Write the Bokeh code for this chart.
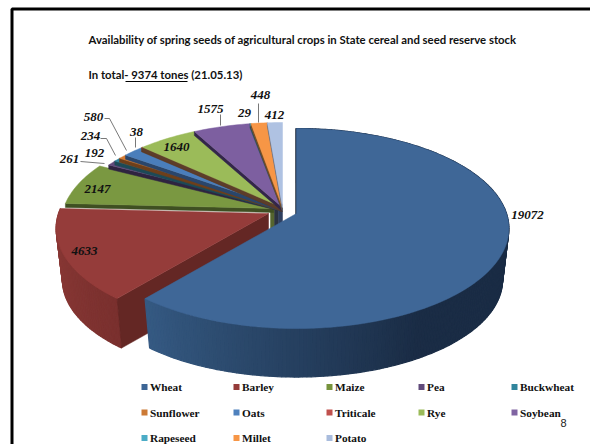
import math
from bokeh.embed import file_html
from bokeh.models import Range1d
from bokeh.plotting import figure
from bokeh.resources import INLINE
from bokeh.core.properties import value

# Stock of spring seeds by crop, tonnes
crops = ["Wheat", "Barley", "Maize", "Pea", "Buckwheat", "Sunflower", "Oats",
         "Triticale", "Rye", "Soybean", "Rapeseed", "Millet", "Potato"]
stock = [19072, 4633, 2147, 261, 192, 234, 580, 38, 1640, 1575, 29, 448, 412]
top_colors = ["#3F6797", "#953C3A", "#7A9841", "#604A7B", "#31859C", "#D57A33", "#4A7EBB",
              "#C0504D", "#9BBB59", "#7D5FA0", "#4BACC6", "#F79646", "#AFC2E2"]
swatch_colors = ["#3C6595", "#953B39", "#77933C", "#604A7B", "#31859C", "#CC7A35", "#4F81BD",
                 "#C0504D", "#9BBB59", "#8064A2", "#4BACC6", "#F79646", "#A9BCDD"]
band_colors = ["#22344F", "#642724", "#3F4F22", "#2E2440", "#1C4A57", "#6E3F1A", "#2A466B",
               "#5E3A22", "#5C3D2A", "#33264A", "#20505C", "#7A4A22", "#5A6880"]

# Where each slice's tip sits on the page: pulled-out wheat, then barley, maize, the rest
tips = {0: (296, 213), 1: (268, 213), 2: (273, 208)}
default_tip = (282, 207)

RX, RY, PERSP = 210, 97.75, 0.15
WALL_DROP, WALL_SCALE = 52, 0.97
SLIT = 4

W, H = 590, 444
p = figure(width=W, height=H, output_backend="svg", toolbar_location=None,
           x_range=Range1d(0, W), y_range=Range1d(H, 0), min_border=0,
           background_fill_color="white", border_fill_color="white", outline_line_color=None)
p.xaxis.visible = False
p.yaxis.visible = False
p.grid.visible = False


def rim(tip, deg, lower=False):
    """Page position of a rim point at `deg` clockwise from 12 o'clock."""
    t = math.radians(deg)
    s, c = math.sin(t), math.cos(t)
    w = 1 + PERSP * c
    dx, dy = RX * s / w, -RY * c / w
    if lower:
        return tip[0] + WALL_SCALE * dx, tip[1] + WALL_DROP + WALL_SCALE * dy
    return tip[0] + dx, tip[1] + dy


def arc(tip, a, b, lower=False):
    n = max(2, int(abs(b - a) / 1.5) + 2)
    return [rim(tip, a + (b - a) * i / (n - 1), lower) for i in range(n)]


def fill(points, color, edge=0.5):
    p.patch([q[0] for q in points], [q[1] for q in points],
            fill_color=color, line_color=color, line_width=edge)


def mix(c1, c2, f):
    a = [int(c1[i:i + 2], 16) for i in (1, 3, 5)]
    b = [int(c2[i:i + 2], 16) for i in (1, 3, 5)]
    return "#%02x%02x%02x" % tuple(round(x + (y - x) * f) for x, y in zip(a, b))


total = sum(stock)
spans, start = [], 0.0
for v in stock:
    end = start + v / total * 360
    spans.append((start, end))
    start = end


def wall(i, a, b, shade):
    # Narrow overlapping strips give a smooth shading along the outer wall
    tip = tips.get(i, default_tip)
    n = max(1, int(abs(b - a) / 1.0))
    for j in range(n):
        u0 = a + (b - a) * j / n
        u1 = a + (b - a) * (j + 1) / n
        c = shade((u0 + u1) / 2)
        fill([rim(tip, u0), rim(tip, u1), rim(tip, u1, True), rim(tip, u0, True)], c, edge=1.2)


# Shadowed hub under the narrow slices, in vertical stripes
hub_x = [270, 274, 278, 282]
hub_colors = ["#55652E", "#2B3240", "#2E3F5F"]
for k, c in enumerate(hub_colors):
    fill([(hub_x[k], 204), (hub_x[k + 1], 204), (hub_x[k + 1], 235), (hub_x[k], 235)], c)

# Barley: outer wall, cut face, top
b_tip = tips[1]
wall(1, spans[1][1], spans[1][0], lambda d: mix("#8E3B38", "#7A302E", (270 - d) / 50))
t0 = rim(b_tip, spans[1][0])
l0 = rim(b_tip, spans[1][0], True)
fill([b_tip, t0, l0, (b_tip[0], b_tip[1] + WALL_DROP)], "#642724")
fill([b_tip] + arc(b_tip, spans[1][0], spans[1][1]), top_colors[1])

# Remaining back slices, each with a thin dark slit along its leading edge
for i in range(2, len(stock)):
    a, b = spans[i]
    tip = tips.get(i, default_tip)
    rim_pt = rim(tip, a)
    fill([tip, rim_pt, (rim_pt[0], rim_pt[1] + SLIT), (tip[0], tip[1] + SLIT)], band_colors[i])
    fill([tip] + arc(tip, a, b), top_colors[i])

# Wheat goes last, in front of everything else
w_tip = tips[0]
a, b = spans[0]
fill([(w_tip[0] + 1, w_tip[1]), rim(w_tip, 0), (w_tip[0] - 1, rim(w_tip, 0)[1]),
      (w_tip[0] - 1, w_tip[1] + 3)], "#1E2A3A")
wall(0, a, b, lambda d: mix("#1A2C45", "#355A83", max(0.0, (d - 150) / 70)))
fill([w_tip] + arc(w_tip, a, b), top_colors[0])

# Outer frame of the slide
p.line([11.5, 11.5, W], [H, 8.5, 8.5], line_color="black", line_width=3)

# Headings
p.text([88], [39], text=["Availability of spring seeds of agricultural crops in State cereal and seed reserve stock"],
       text_font=value("Lato"), text_font_style="bold", text_font_size="11.35px",
       text_baseline="middle", text_color="#111111")
p.text([88], [74], text=["In total- 9374 tones (21.05.13)"],
       text_font=value("Lato"), text_font_style="bold", text_font_size="11.35px",
       text_baseline="middle", text_color="#111111")
p.line([125, 187], [81, 81], line_color="black", line_width=1.2)

# Value labels
label_pos = {"Wheat": (527, 214), "Barley": (84, 250), "Maize": (97, 188), "Pea": (69, 158),
             "Buckwheat": (94, 152), "Sunflower": (90, 135), "Oats": (93, 116), "Triticale": (136, 131),
             "Rye": (176, 146), "Soybean": (210, 108), "Rapeseed": (244, 112), "Millet": (260, 94),
             "Potato": (274, 114)}
p.text([label_pos[c][0] for c in crops], [label_pos[c][1] for c in crops],
       text=[str(v) for v in stock], text_font=value("Liberation Serif"),
       text_font_style="bold italic", text_font_size="13px", text_align="center",
       text_baseline="middle", text_color="#111111")

# Leader lines
leaders = [([220, 220], [114, 125]), ([258, 258], [103, 122]), ([135, 135], [137, 147]),
           ([104, 109, 126], [118, 118, 150]), ([100, 106, 115], [138, 138, 155]),
           ([80, 104], [161, 163])]
for lx, ly in leaders:
    p.line(lx, ly, line_color="#555555", line_width=0.8)

# Legend, three rows of five
col_x = [141, 233, 326, 418, 511]
row_y = [386.5, 412, 437.5]
for n, crop in enumerate(crops):
    x0, y0 = col_x[n % 5], row_y[n // 5]
    p.rect([x0 + 3], [y0], width=6, height=6, fill_color=swatch_colors[n], line_color=None)
    p.text([x0 + 8.5], [y0], text=[crop], text_font=value("Liberation Serif"), text_font_style="bold",
           text_font_size="11.3px", text_baseline="middle", text_color="#111111")

# Slide number
p.text([563], [422], text=["8"], text_font=value("Liberation Sans"), text_font_size="11px",
       text_align="center", text_baseline="middle", text_color="#222222")

open("out.html", "w").write(file_html(p, INLINE))
